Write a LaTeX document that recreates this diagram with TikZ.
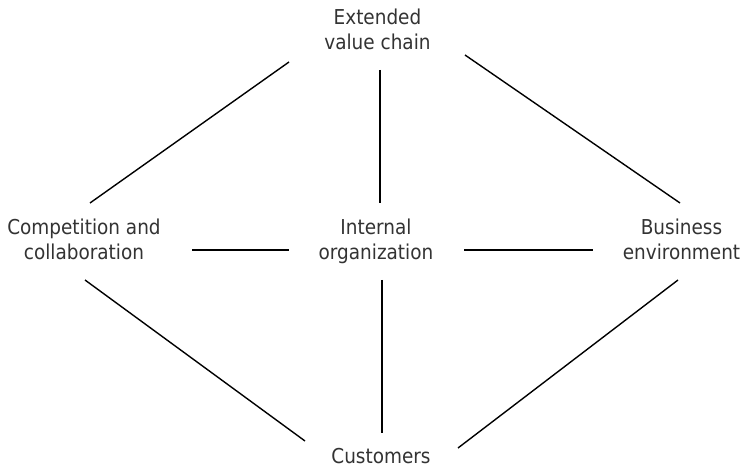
\documentclass[tikz,border=0pt]{standalone}
\usepackage{fontspec}
\setmainfont{DejaVu Sans Condensed}
\definecolor{labelgray}{HTML}{333333}

\begin{document}
\begin{tikzpicture}[x=1pt, y=1pt,
	topic/.style={anchor=base, align=center, inner sep=0pt, text=labelgray,
		font=\fontsize{20.5}{25}\selectfont},
	link/.style={line width=1.4pt, black}]
	\useasboundingbox (0,0) rectangle (743,471);

	\node [topic] (ext) at (377.5,421) {Extended\\value chain};
	\node [topic] (comp) at (84,211) {Competition and\\collaboration};
	\node [topic] (intorg) at (376,211) {Internal\\organization};
	\node [topic] (biz) at (681.5,211) {Business\\environment};
	\node [topic] (cust) at (381,8) {Customers};

	\draw [link] ([shift={(-88.5,-12)}]ext.base) -- ([shift={(6,57)}]comp.base);
	\draw [link] ([shift={(2.5,-20)}]ext.base) -- ([shift={(4,57)}]intorg.base);
	\draw [link] ([shift={(87.5,-5)}]ext.base) -- ([shift={(-1.5,57)}]biz.base);
	\draw [link] ([shift={(108,10)}]comp.base) -- ([shift={(-87,10)}]intorg.base);
	\draw [link] ([shift={(88,10)}]intorg.base) -- ([shift={(-88.5,10)}]biz.base);
	\draw [link] ([shift={(1,-20)}]comp.base) -- ([shift={(-76,22)}]cust.base);
	\draw [link] ([shift={(6,-20)}]intorg.base) -- ([shift={(1,30)}]cust.base);
	\draw [link] ([shift={(-3.5,-20)}]biz.base) -- ([shift={(77,15)}]cust.base);
\end{tikzpicture}
\end{document}
